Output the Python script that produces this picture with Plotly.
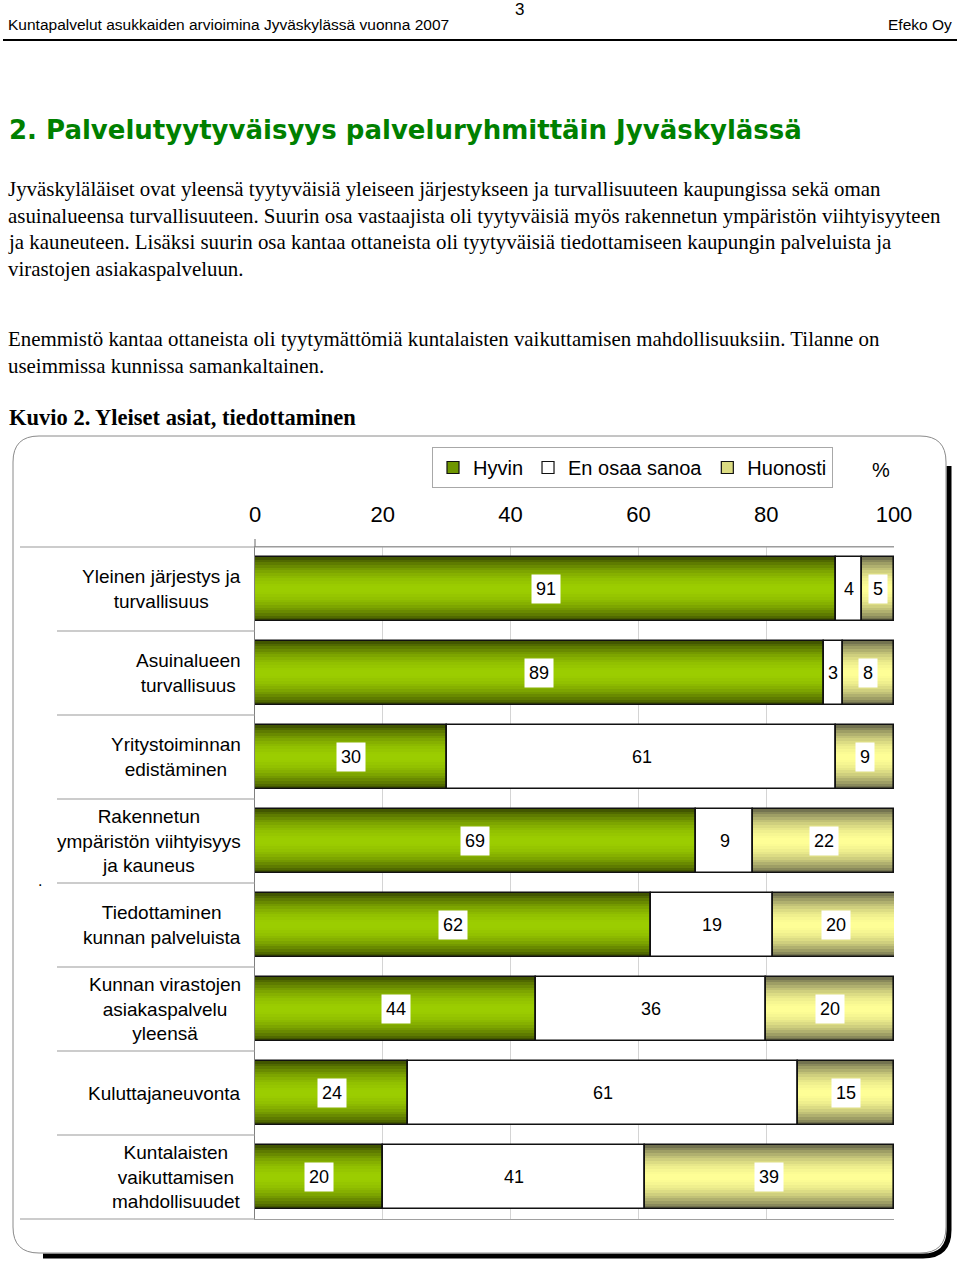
import plotly.graph_objects as go

# ---------------- data ----------------
categories = [
    "Yleinen järjestys ja<br>turvallisuus",
    "Asuinalueen<br>turvallisuus",
    "Yritystoiminnan<br>edistäminen",
    "Rakennetun<br>ympäristön viihtyisyys<br>ja kauneus",
    "Tiedottaminen<br>kunnan palveluista",
    "Kunnan virastojen<br>asiakaspalvelu<br>yleensä",
    "Kuluttajaneuvonta",
    "Kuntalaisten<br>vaikuttamisen<br>mahdollisuudet",
]
hyvin = [91, 89, 30, 69, 62, 44, 24, 20]
en_osaa_sanoa = [4, 3, 61, 9, 19, 36, 61, 41]
huonosti = [5, 8, 9, 22, 20, 20, 15, 39]
series_names = ["Hyvin", "En osaa sanoa", "Huonosti"]
x_ticks = [0, 20, 40, 60, 80, 100]

header_left = "Kuntapalvelut asukkaiden arvioimina Jyväskylässä vuonna 2007"
header_right = "Efeko Oy"
page_number = "3"
title = "2. Palvelutyytyväisyys palveluryhmittäin Jyväskylässä"
paragraph1 = [
    "Jyväskyläläiset ovat yleensä tyytyväisiä yleiseen järjestykseen ja turvallisuuteen kaupungissa sekä oman",
    "asuinalueensa turvallisuuteen. Suurin osa vastaajista oli tyytyväisiä myös rakennetun ympäristön viihtyisyyteen",
    "ja kauneuteen. Lisäksi suurin osa kantaa ottaneista oli tyytyväisiä tiedottamiseen kaupungin palveluista ja",
    "virastojen asiakaspalveluun.",
]
paragraph2 = [
    "Enemmistö kantaa ottaneista oli tyytymättömiä kuntalaisten vaikuttamisen mahdollisuuksiin. Tilanne on",
    "useimmissa kunnissa samankaltainen.",
]
figure_caption = "Kuvio 2. Yleiset asiat, tiedottaminen"

# ---------------- helpers ----------------
W, H = 960, 1263


def X(px):
    return px / W


def Y(py):
    return 1 - py / H


def lerp(c1, c2, t):
    return "rgb(%d,%d,%d)" % tuple(round(a + (b - a) * t) for a, b in zip(c1, c2))


SANS = "Liberation Sans, Arial, sans-serif"
SERIF = "Liberation Serif, Times New Roman, serif"
TITLE_FONT = "DejaVu Sans, Verdana, sans-serif"

ypos = list(range(len(categories)))
bases = [
    [0] * len(hyvin),
    list(hyvin),
    [a + b for a, b in zip(hyvin, en_osaa_sanoa)],
]
values = [hyvin, en_osaa_sanoa, huonosti]
edge_cols = [(66, 86, 0), None, (115, 115, 80)]
center_cols = [(156, 206, 0), None, (255, 255, 150)]
legend_cols = ["rgb(110,150,0)", "white", "rgb(220,220,130)"]

BW = 0.76
N = 12

fig = go.Figure()

for s in range(3):
    vals, base = values[s], bases[s]
    if edge_cols[s] is None:
        fig.add_trace(go.Bar(y=ypos, x=vals, base=base, orientation="h", width=BW,
                             marker=dict(color="white", line=dict(width=0)),
                             showlegend=False, hoverinfo="skip"))
    else:
        for k in range(N):
            w = BW * (1 - k / N)
            d = 1 - k / N
            t = 1 - d ** 2
            fig.add_trace(go.Bar(y=ypos, x=vals, base=base, orientation="h", width=w,
                                 marker=dict(color=lerp(edge_cols[s], center_cols[s], t),
                                             line=dict(width=0)),
                                 showlegend=False, hoverinfo="skip"))
    # outline
    fig.add_trace(go.Bar(y=ypos, x=vals, base=base, orientation="h", width=BW,
                         marker=dict(color="rgba(0,0,0,0)", line=dict(color="#111111", width=1.6)),
                         showlegend=False, hoverinfo="skip"))

# legend entries
for s in range(3):
    fig.add_trace(go.Bar(y=[None], x=[None], orientation="h", name=series_names[s],
                         marker=dict(color=legend_cols[s], line=dict(color="#111111", width=1.2))))

annotations = []

# data labels
for s in range(3):
    for i, (v, b) in enumerate(zip(values[s], bases[s])):
        annotations.append(dict(
            x=b + v / 2, y=i, xref="x", yref="y", text=str(v), showarrow=False,
            font=dict(family=SANS, size=18, color="black"),
            bgcolor="white" if s != 1 else "rgba(0,0,0,0)", borderpad=4,
        ))

# category labels
for i, c in enumerate(categories):
    annotations.append(dict(
        x=X(243), y=i, xref="paper", yref="y", text=c, showarrow=False,
        xanchor="right", yanchor="middle", align="center",
        font=dict(family=SANS, size=19, color="black"),
    ))

# page texts
annotations += [
    dict(x=X(6), y=Y(25), text=header_left, xanchor="left",
         font=dict(family=SANS, size=15.5, color="black")),
    dict(x=X(954), y=Y(25), text=header_right, xanchor="right",
         font=dict(family=SANS, size=15.5, color="black")),
    dict(x=X(519), y=Y(10), text=page_number, xanchor="center",
         font=dict(family=SANS, size=17, color="black")),
    dict(x=X(7), y=Y(130), text="<b>" + title + "</b>", xanchor="left",
         font=dict(family=TITLE_FONT, size=26, color="#008000")),
    dict(x=X(7), y=Y(417), text="<b>" + figure_caption + "</b>", xanchor="left",
         font=dict(family=SERIF, size=22.5, color="black")),
    dict(x=X(881), y=Y(470), text="%", xanchor="center",
         font=dict(family=SANS, size=20, color="black")),
    dict(x=X(40), y=Y(880), text=".", xanchor="center",
         font=dict(family=SANS, size=16, color="black")),
]
for j, line in enumerate(paragraph1):
    annotations.append(dict(x=X(6), y=Y(189 + j * 26.7), text=line, xanchor="left",
                            font=dict(family=SERIF, size=20.9, color="black")))
for j, line in enumerate(paragraph2):
    annotations.append(dict(x=X(6), y=Y(339 + j * 27), text=line, xanchor="left",
                            font=dict(family=SERIF, size=20.9, color="black")))
for a in annotations:
    a.setdefault("xref", "paper")
    a.setdefault("yref", "paper")
    a.setdefault("showarrow", False)
    a.setdefault("yanchor", "middle")

# shapes
shapes = []
# header rule
shapes.append(dict(type="line", xref="paper", yref="paper", x0=X(3), x1=X(957), y0=Y(40), y1=Y(40),
                   line=dict(color="black", width=2)))

# rounded chart box
L, T, R, B, r = 13, 436, 946, 1253, 26


def rr_path(L, T, R, B, r):
    return (f"M {X(L + r)},{Y(T)} L {X(R - r)},{Y(T)} Q {X(R)},{Y(T)} {X(R)},{Y(T + r)} "
            f"L {X(R)},{Y(B - r)} Q {X(R)},{Y(B)} {X(R - r)},{Y(B)} "
            f"L {X(L + r)},{Y(B)} Q {X(L)},{Y(B)} {X(L)},{Y(B - r)} "
            f"L {X(L)},{Y(T + r)} Q {X(L)},{Y(T)} {X(L + r)},{Y(T)} Z")


# black shadow on right and bottom
sh = 3
shadow = (f"M {X(R + sh)},{Y(T + r + 4)} L {X(R + sh)},{Y(B - r + sh)} "
          f"Q {X(R + sh)},{Y(B + sh)} {X(R - r + sh)},{Y(B + sh)} L {X(L + r + 4)},{Y(B + sh)}")
shapes.append(dict(type="path", xref="paper", yref="paper", path=shadow,
                   line=dict(color="black", width=5)))
shapes.append(dict(type="path", xref="paper", yref="paper", path=rr_path(L, T, R, B, r),
                   line=dict(color="#8a8a8a", width=1), fillcolor="rgba(0,0,0,0)"))

# category separators
top_px, bot_px = 547, 1219
row_h = (bot_px - top_px) / len(categories)
for k in range(len(categories) + 1):
    yy = top_px + k * row_h
    x0 = 20 if k in (0, len(categories)) else 57
    x1 = 894 if k == 0 else 255
    shapes.append(dict(type="line", xref="paper", yref="paper", x0=X(x0), x1=X(x1), y0=Y(yy), y1=Y(yy),
                       line=dict(color="#9a9a9a", width=1.2)))
shapes.append(dict(type="line", xref="paper", yref="paper", x0=X(255), x1=X(255), y0=Y(539), y1=Y(547),
                   line=dict(color="#808080", width=1.2)))

fig.update_layout(
    width=W, height=H, autosize=False,
    margin=dict(l=0, r=0, t=0, b=0, autoexpand=False),
    paper_bgcolor="white", plot_bgcolor="white",
    barmode="overlay", bargap=0,
    showlegend=True,
    legend=dict(orientation="h", x=X(432), y=Y(447), xanchor="left", yanchor="top",
                bgcolor="white", bordercolor="#a8a8a8", borderwidth=1,
                font=dict(family=SANS, size=20, color="black"),
                itemwidth=30, tracegroupgap=0),
    xaxis=dict(domain=[X(255), X(894)], range=[0, 100], side="top",
               tickvals=x_ticks, ticktext=[str(t) for t in x_ticks],
               showgrid=True, gridcolor="#d4d4d4", gridwidth=1,
               showline=True, linecolor="#a0a0a0", mirror=True,
               ticks="outside", ticklen=15, tickcolor="rgba(0,0,0,0)",
               tickfont=dict(family=SANS, size=22, color="black"),
               zeroline=False, fixedrange=True, automargin=False),
    yaxis=dict(domain=[Y(bot_px), Y(top_px)], range=[len(categories) - 0.5, -0.5],
               showticklabels=False, showgrid=False, zeroline=False,
               showline=True, linecolor="#808080", linewidth=1.2, ticks="", fixedrange=True,
               automargin=False),
    annotations=annotations,
    shapes=shapes,
)

fig.write_html(
    "out.html",
    config={"responsive": False, "displayModeBar": False},
    default_width=W, default_height=H,
    post_script="document.body.style.margin='0px';document.body.style.overflow='hidden';",
)
